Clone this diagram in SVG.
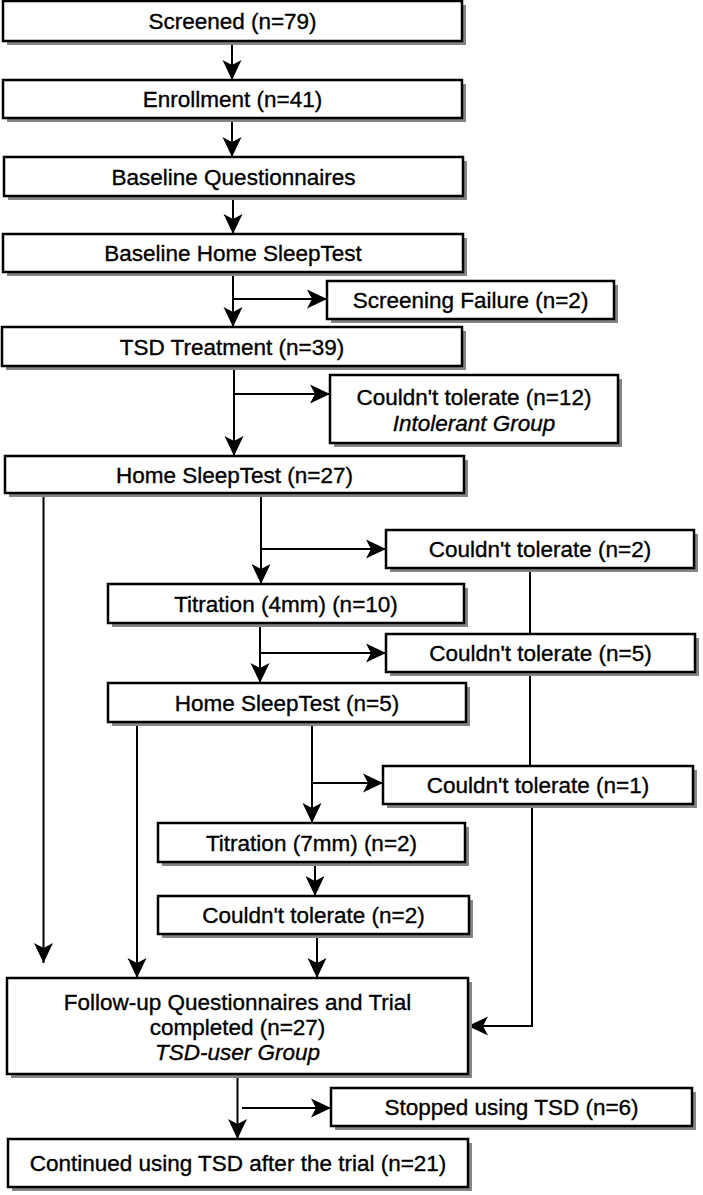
<svg xmlns="http://www.w3.org/2000/svg" width="703" height="1195" viewBox="0 0 703 1195">
<defs>
<style>
.sh{fill:#858585;stroke:none}
.bx{fill:#fff;stroke:#000;stroke-width:2.5}
.t{font-family:"Liberation Sans",Arial,Helvetica,sans-serif;font-size:22.5px;fill:#000;stroke:#000;stroke-width:0.35;text-anchor:middle}
.i{font-style:italic}
.c{fill:none;stroke:#000;stroke-width:2}
</style>
<marker id="ah" markerUnits="userSpaceOnUse" markerWidth="21" markerHeight="20" viewBox="-20 -10 21 20" refX="0" refY="0" orient="auto">
<path d="M0,0 L-20,-9.5 L-15,0 L-20,9.5 Z" fill="#000"/>
</marker>
</defs>
<rect width="703" height="1195" fill="#fff"/>

<g id="connectors">
<line class="c" x1="232" y1="41" x2="232" y2="80" marker-end="url(#ah)"/>
<line class="c" x1="232" y1="118" x2="232" y2="157" marker-end="url(#ah)"/>
<line class="c" x1="233" y1="196" x2="233" y2="234" marker-end="url(#ah)"/>
<line class="c" x1="233" y1="272" x2="233" y2="327" marker-end="url(#ah)"/>
<line class="c" x1="233" y1="299" x2="327" y2="299" marker-end="url(#ah)"/>
<line class="c" x1="234" y1="366" x2="234" y2="456" marker-end="url(#ah)"/>
<line class="c" x1="234" y1="394" x2="330" y2="394" marker-end="url(#ah)"/>
<line class="c" x1="43.5" y1="493" x2="43.5" y2="963" marker-end="url(#ah)"/>
<line class="c" x1="261" y1="493" x2="261" y2="584" marker-end="url(#ah)"/>
<line class="c" x1="261" y1="549" x2="386" y2="549" marker-end="url(#ah)"/>
<line class="c" x1="530" y1="568" x2="530" y2="634"/>
<line class="c" x1="260" y1="623" x2="260" y2="683" marker-end="url(#ah)"/>
<line class="c" x1="260" y1="653" x2="386" y2="653" marker-end="url(#ah)"/>
<line class="c" x1="530" y1="672" x2="530" y2="766"/>
<line class="c" x1="137" y1="722" x2="137" y2="978" marker-end="url(#ah)"/>
<line class="c" x1="312" y1="722" x2="312" y2="823" marker-end="url(#ah)"/>
<line class="c" x1="312" y1="783" x2="383" y2="783" marker-end="url(#ah)"/>
<polyline class="c" points="532,804 532,1026 468,1026" marker-end="url(#ah)"/>
<line class="c" x1="315" y1="862" x2="315" y2="896" marker-end="url(#ah)"/>
<line class="c" x1="317" y1="934" x2="317" y2="978" marker-end="url(#ah)"/>
<line class="c" x1="237.5" y1="1074" x2="237.5" y2="1139" marker-end="url(#ah)"/>
<line class="c" x1="242" y1="1108" x2="331" y2="1108" marker-end="url(#ah)"/>
</g>

<g id="n1"><rect class="sh" x="7" y="5" width="459" height="40"/><rect class="bx" x="3" y="1" width="459" height="40"/><text class="t" x="232.5" y="29">Screened (n=79)</text></g>
<g id="n2"><rect class="sh" x="7" y="84" width="459" height="38"/><rect class="bx" x="3" y="80" width="459" height="38"/><text class="t" x="232.5" y="107">Enrollment (n=41)</text></g>
<g id="n3"><rect class="sh" x="8" y="161" width="459" height="39"/><rect class="bx" x="4" y="157" width="459" height="39"/><text class="t" x="233.5" y="184.5">Baseline Questionnaires</text></g>
<g id="n4"><rect class="sh" x="7" y="238" width="460" height="38"/><rect class="bx" x="3" y="234" width="460" height="38"/><text class="t" x="233" y="261">Baseline Home SleepTest</text></g>
<g id="n5"><rect class="sh" x="331" y="285" width="287" height="38"/><rect class="bx" x="327" y="281" width="287" height="38"/><text class="t" x="470.5" y="308">Screening Failure (n=2)</text></g>
<g id="n6"><rect class="sh" x="6" y="331" width="460" height="39"/><rect class="bx" x="2" y="327" width="460" height="39"/><text class="t" x="232" y="354.5">TSD Treatment (n=39)</text></g>
<g id="n7"><rect class="sh" x="334" y="379" width="288" height="68"/><rect class="bx" x="330" y="375" width="288" height="68"/><text class="t" x="474" y="405">Couldn't tolerate (n=12)</text><text class="t i" x="474" y="431">Intolerant Group</text></g>
<g id="n8"><rect class="sh" x="9" y="460" width="459" height="37"/><rect class="bx" x="5" y="456" width="459" height="37"/><text class="t" x="234.5" y="482.5">Home SleepTest (n=27)</text></g>
<g id="n9"><rect class="sh" x="390" y="534" width="308" height="38"/><rect class="bx" x="386" y="530" width="308" height="38"/><text class="t" x="540" y="557">Couldn't tolerate (n=2)</text></g>
<g id="n10"><rect class="sh" x="112" y="588" width="356" height="39"/><rect class="bx" x="108" y="584" width="356" height="39"/><text class="t" x="286" y="611.5">Titration (4mm) (n=10)</text></g>
<g id="n11"><rect class="sh" x="390" y="638" width="309" height="38"/><rect class="bx" x="386" y="634" width="309" height="38"/><text class="t" x="540.5" y="661">Couldn't tolerate (n=5)</text></g>
<g id="n12"><rect class="sh" x="112" y="687" width="358" height="39"/><rect class="bx" x="108" y="683" width="358" height="39"/><text class="t" x="287" y="710.5">Home SleepTest (n=5)</text></g>
<g id="n13"><rect class="sh" x="387" y="770" width="310" height="38"/><rect class="bx" x="383" y="766" width="310" height="38"/><text class="t" x="538" y="793">Couldn't tolerate (n=1)</text></g>
<g id="n14"><rect class="sh" x="162" y="827" width="307" height="39"/><rect class="bx" x="158" y="823" width="307" height="39"/><text class="t" x="311.5" y="850.5">Titration (7mm) (n=2)</text></g>
<g id="n15"><rect class="sh" x="162" y="900" width="311" height="38"/><rect class="bx" x="158" y="896" width="311" height="38"/><text class="t" x="313.5" y="923">Couldn't tolerate (n=2)</text></g>
<g id="n16"><rect class="sh" x="11" y="982" width="461" height="96"/><rect class="bx" x="7" y="978" width="461" height="96"/><text class="t" x="237.5" y="1010">Follow-up Questionnaires and Trial</text><text class="t" x="237.5" y="1035">completed (n=27)</text><text class="t i" x="237.5" y="1060">TSD-user Group</text></g>
<g id="n17"><rect class="sh" x="335" y="1092" width="361" height="38"/><rect class="bx" x="331" y="1088" width="361" height="38"/><text class="t" x="511.5" y="1115">Stopped using TSD (n=6)</text></g>
<g id="n18"><rect class="sh" x="12" y="1143" width="460" height="48"/><rect class="bx" x="8" y="1139" width="460" height="48"/><text class="t" x="238" y="1171">Continued using TSD after the trial (n=21)</text></g>
</svg>
